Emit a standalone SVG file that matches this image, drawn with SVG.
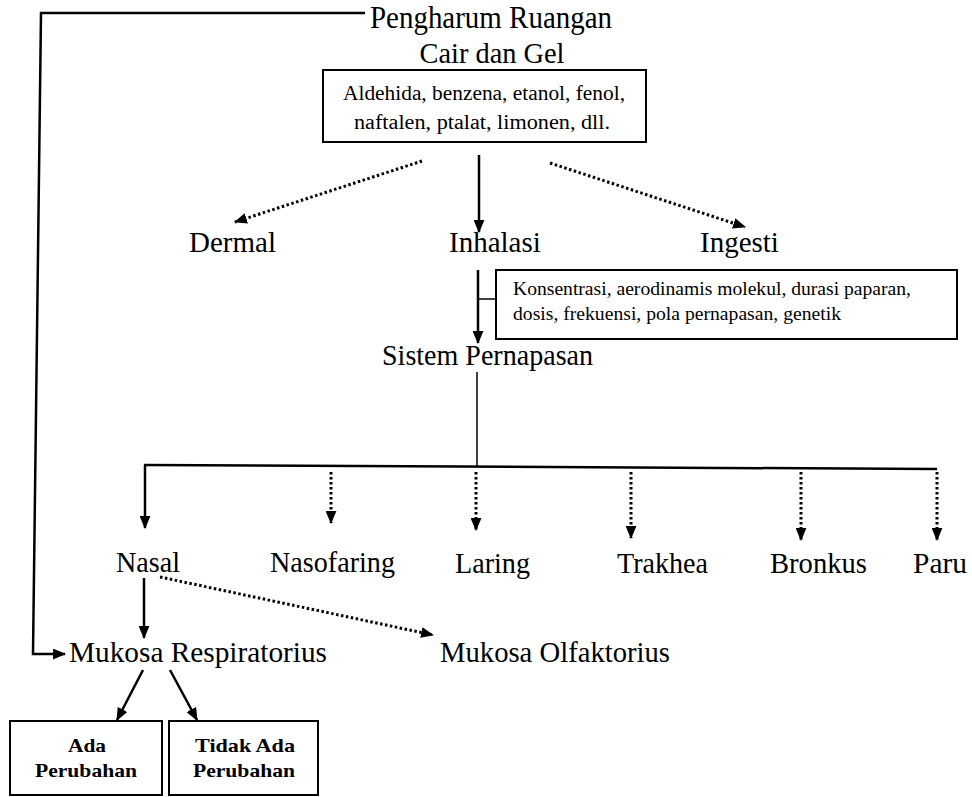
<svg xmlns="http://www.w3.org/2000/svg" width="972" height="797" viewBox="0 0 972 797">
<defs>
<marker id="ah" viewBox="0 0 12 10" refX="11" refY="5" markerWidth="13" markerHeight="11" markerUnits="userSpaceOnUse" orient="auto"><path d="M0,0 L12,5 L0,10 z" fill="#000"/></marker>
</defs>
<style>
.t{font-family:"Liberation Serif","Times New Roman",serif;fill:#000}
.lg{font-size:29px}
.sm{font-size:20px}
.bd{font-weight:bold;font-size:19px}
.m{text-anchor:middle}
.bx{fill:#fff;stroke:#000;stroke-width:2}
.s{fill:none;stroke:#000;stroke-width:2.5}
.th{fill:none;stroke:#000;stroke-width:1.5}
.d{fill:none;stroke:#000;stroke-width:3;stroke-dasharray:2.5 2.5}
</style>
<rect width="972" height="797" fill="#fff"/>
<g id="connectors">
<path class="s" d="M365,13 L41,13 L33,654 L65,654" marker-end="url(#ah)"/>
<path class="s" d="M479,155 L479,232" marker-end="url(#ah)"/>
<path class="d" d="M422,161 L235,222" marker-end="url(#ah)"/>
<path class="d" d="M550,163 L745,227" marker-end="url(#ah)"/>
<path class="s" d="M478,270 L478,343" marker-end="url(#ah)"/>
<path class="th" d="M478,299 L496,299"/>
<path class="th" d="M477,372 L477,466"/>
<path class="s" d="M144,465 L937,469"/>
<path class="s" d="M145,465 L145,528" marker-end="url(#ah)"/>
<path class="d" d="M331,472 L331,523" marker-end="url(#ah)"/>
<path class="d" d="M476,472 L476,530" marker-end="url(#ah)"/>
<path class="d" d="M631,472 L631,538" marker-end="url(#ah)"/>
<path class="d" d="M801,472 L801,540" marker-end="url(#ah)"/>
<path class="d" d="M937,472 L937,540" marker-end="url(#ah)"/>
<path class="s" d="M144,578 L144,638" marker-end="url(#ah)"/>
<path class="d" d="M160,577 L433,635" marker-end="url(#ah)"/>
<path class="s" d="M143,670 L117,720" marker-end="url(#ah)"/>
<path class="s" d="M170,670 L197,720" marker-end="url(#ah)"/>
</g>
<g id="pengharum">
<text class="t" style="font-size:31px" x="370" y="28" textLength="242" lengthAdjust="spacingAndGlyphs">Pengharum Ruangan</text>
<text class="t m" style="font-size:30px" x="492" y="63" textLength="145" lengthAdjust="spacingAndGlyphs">Cair dan Gel</text>
</g>
<g id="bahan">
<rect class="bx" x="323" y="70" width="323" height="72"/>
<text class="t sm m" x="484" y="100" textLength="282" lengthAdjust="spacingAndGlyphs">Aldehida, benzena, etanol, fenol,</text>
<text class="t sm m" x="482" y="129" textLength="256" lengthAdjust="spacingAndGlyphs">naftalen, ptalat, limonen, dll.</text>
</g>
<g id="dermal"><text class="t lg" x="189" y="252">Dermal</text></g>
<g id="inhalasi"><text class="t lg" x="449" y="252">Inhalasi</text></g>
<g id="ingesti"><text class="t lg" x="700" y="252">Ingesti</text></g>
<g id="faktor">
<rect class="bx" x="496" y="270" width="461" height="69"/>
<text class="t" style="font-size:19.5px" x="513" y="295" textLength="398" lengthAdjust="spacingAndGlyphs">Konsentrasi, aerodinamis molekul, durasi paparan,</text>
<text class="t" style="font-size:19.5px" x="513" y="320" textLength="328" lengthAdjust="spacingAndGlyphs">dosis, frekuensi, pola pernapasan, genetik</text>
</g>
<g id="sistem"><text class="t lg" x="382" y="365" textLength="211" lengthAdjust="spacingAndGlyphs">Sistem Pernapasan</text></g>
<g id="nasal"><text class="t lg" x="116" y="572" textLength="64" lengthAdjust="spacingAndGlyphs">Nasal</text></g>
<g id="nasofaring"><text class="t lg" x="270" y="572" textLength="125" lengthAdjust="spacingAndGlyphs">Nasofaring</text></g>
<g id="laring"><text class="t lg" x="455" y="573" textLength="75" lengthAdjust="spacingAndGlyphs">Laring</text></g>
<g id="trakhea"><text class="t lg" x="617" y="573" textLength="91" lengthAdjust="spacingAndGlyphs">Trakhea</text></g>
<g id="bronkus"><text class="t lg" x="770" y="573" textLength="97" lengthAdjust="spacingAndGlyphs">Bronkus</text></g>
<g id="paru"><text class="t lg" x="913" y="573" textLength="54" lengthAdjust="spacingAndGlyphs">Paru</text></g>
<g id="mukosa-respiratorius"><text class="t lg" x="69" y="662" textLength="258" lengthAdjust="spacingAndGlyphs">Mukosa Respiratorius</text></g>
<g id="mukosa-olfaktorius"><text class="t lg" x="440" y="662" textLength="230" lengthAdjust="spacingAndGlyphs">Mukosa Olfaktorius</text></g>
<g id="ada-perubahan">
<rect class="bx" x="10" y="721" width="152" height="74"/>
<text class="t bd m" x="87" y="752" textLength="38" lengthAdjust="spacingAndGlyphs">Ada</text>
<text class="t bd m" x="86" y="777" textLength="102" lengthAdjust="spacingAndGlyphs">Perubahan</text>
</g>
<g id="tidak-ada-perubahan">
<rect class="bx" x="169" y="721" width="149" height="74"/>
<text class="t bd m" x="245" y="752" textLength="100" lengthAdjust="spacingAndGlyphs">Tidak Ada</text>
<text class="t bd m" x="244" y="777" textLength="102" lengthAdjust="spacingAndGlyphs">Perubahan</text>
</g>
</svg>
